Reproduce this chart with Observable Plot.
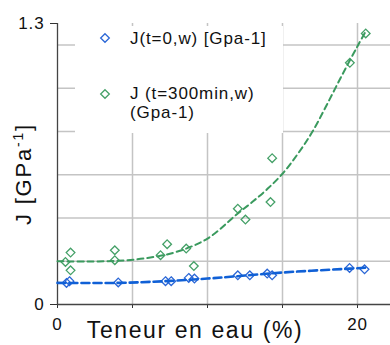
<!DOCTYPE html>
<html><head><meta charset="utf-8">
<script src="https://cdn.jsdelivr.net/npm/d3@7"></script>
<script src="https://cdn.jsdelivr.net/npm/@observablehq/plot@0.6"></script>
<style>
body{margin:0;background:#fff;}
#chart{position:relative;width:390px;height:345px;}
#chart svg text{letter-spacing:0.9px;}
</style></head><body><div id="chart"></div>
<script>
// Water content w (%) and compliance J (GPa^-1)
const wBlue = [0.6, 0.8, 4.05, 7.2, 7.58, 8.75, 9.13, 12.02, 12.82, 13.98, 14.31, 19.47, 20.47];
const jBlue = [0.100, 0.108, 0.102, 0.108, 0.108, 0.123, 0.120, 0.135, 0.135, 0.143, 0.135, 0.169, 0.163];
const wGreen = [0.53, 0.87, 0.87, 3.82, 3.82, 6.87, 7.31, 8.58, 9.09, 12.02, 12.53, 14.2, 14.31, 19.49, 20.55];
const jGreen = [0.197, 0.240, 0.158, 0.251, 0.205, 0.228, 0.279, 0.259, 0.178, 0.443, 0.393, 0.474, 0.677, 1.118, 1.254];
// trend lines
const trendBlueW = [0, 4, 7.2, 10, 12, 15, 19.5, 20.5];
const trendBlueJ = [0.100, 0.100, 0.108, 0.120, 0.131, 0.148, 0.166, 0.170];
const trendGreenW = [0, 2, 4, 6, 8, 10, 12, 13, 14, 15, 16, 17, 18, 19, 20, 20.6];
const trendGreenJ = [0.200, 0.199, 0.202, 0.215, 0.245, 0.305, 0.420, 0.475, 0.535, 0.605, 0.695, 0.800, 0.930, 1.065, 1.195, 1.270];
// axes
const xGrid = [5, 10, 15, 20];
const xTicks = [0, 5, 10, 15, 20];
const xTickLabels = [0, 20];
const yGrid = [0.2, 0.4, 0.6, 0.8, 1.0, 1.2];
const yTicks = [0, 1.3];
const seriesNames = ["J(t=0,w) [Gpa-1]", "J (t=300min,w)", "(Gpa-1)"];
const xTitle = "Teneur en eau (%)";

const blue = wBlue.map((w, i) => ({w, j: jBlue[i]}));
const green = wGreen.map((w, i) => ({w, j: jGreen[i]}));
const tBlue = trendBlueW.map((w, i) => ({w, j: trendBlueJ[i]}));
const tGreen = trendGreenW.map((w, i) => ({w, j: trendGreenJ[i]}));

const BLUE = "#2a66d6", BLUE_L = "#1060d6", GREEN = "#44a067", GREEN_L = "#3a9a5e";
const font = "'Liberation Sans', Arial, sans-serif";

const plot = Plot.plot({
  width: 390, height: 345,
  marginLeft: 57, marginRight: 0, marginTop: 23, marginBottom: 41,
  style: {fontFamily: font, fontSize: "17px", color: "#111", background: "#fff"},
  x: {domain: [0, 22.2]},
  y: {domain: [0, 1.3]},
  marks: [
    Plot.gridX(xGrid, {stroke: "#c4c4c4", strokeOpacity: 1, strokeWidth: 1.5}),
    Plot.gridY(yGrid, {stroke: "#c4c4c4", strokeOpacity: 1, strokeWidth: 1.5}),
    Plot.axisX(xTicks, {tickSize: 4, tickPadding: 9, tickFormat: d => xTickLabels.includes(d) ? String(d) : "", label: null, stroke: "#333", fontSize: 17}),
    Plot.axisY(yTicks, {tickSize: 7, tickPadding: 6, tickFormat: d => d === 0 ? "0" : d.toFixed(1), label: null, stroke: "#333", fontSize: 17}),
    Plot.ruleX([0], {stroke: "#444", strokeWidth: 1.3}),
    Plot.ruleY([0], {stroke: "#444", strokeWidth: 1.3}),
    Plot.dot(blue, {x: "w", y: "j", symbol: "diamond2", r: 3.9, stroke: BLUE, strokeWidth: 1.3, fill: "none"}),
    Plot.dot(green, {x: "w", y: "j", symbol: "diamond2", r: 3.9, stroke: GREEN, strokeWidth: 1.3, fill: "none"}),
    Plot.line(tGreen, {x: "w", y: "j", curve: "catmull-rom", stroke: GREEN_L, strokeWidth: 2, strokeDasharray: "6,4"}),
    Plot.line(tBlue, {x: "w", y: "j", curve: "catmull-rom", stroke: BLUE_L, strokeWidth: 2.6, strokeDasharray: "8,4"})
  ]
});

const svg = d3.select(plot);
// legend
const lg = svg.append("g").attr("font-family", font).attr("font-size", 17).attr("text-anchor", "start");
lg.append("rect").attr("x", 75).attr("y", 26).attr("width", 208).attr("height", 107).style("fill", "#ffffff").style("stroke", "none");
const sym = d3.symbol(d3.symbolDiamond2, Math.PI * 3.9 * 3.9)();
lg.append("path").attr("d", sym).attr("transform", "translate(105,38)").style("fill", "none").attr("stroke", BLUE).attr("stroke-width", 1.3);
lg.append("path").attr("d", sym).attr("transform", "translate(105,94)").style("fill", "none").attr("stroke", GREEN).attr("stroke-width", 1.3);
lg.append("text").attr("x", 130).attr("y", 38).attr("dy", "0.35em").style("fill", "#111").text(seriesNames[0]);
lg.append("text").attr("x", 130).attr("y", 93).attr("dy", "0.35em").style("fill", "#111").text(seriesNames[1]);
lg.append("text").attr("x", 130).attr("y", 112).attr("dy", "0.35em").style("fill", "#111").text(seriesNames[2]);
// x title
svg.append("text").attr("x", 195).attr("y", 330).attr("dy", "0.35em").attr("text-anchor", "middle")
  .attr("font-family", font).attr("font-size", 23).style("fill", "#111").style("letter-spacing", "1.6px").text(xTitle);
// y title
const yt = svg.append("text").attr("transform", "translate(23,174) rotate(-90)").attr("dy", "0.35em")
  .attr("text-anchor", "middle").attr("font-family", font).attr("font-size", 22).style("fill", "#111").style("letter-spacing", "1.8px");
yt.append("tspan").text("J [GPa");
yt.append("tspan").attr("font-size", 14).attr("dy", -8).text("-1");
yt.append("tspan").attr("dy", 8).text("]");

document.getElementById("chart").appendChild(plot);
</script></body></html>
